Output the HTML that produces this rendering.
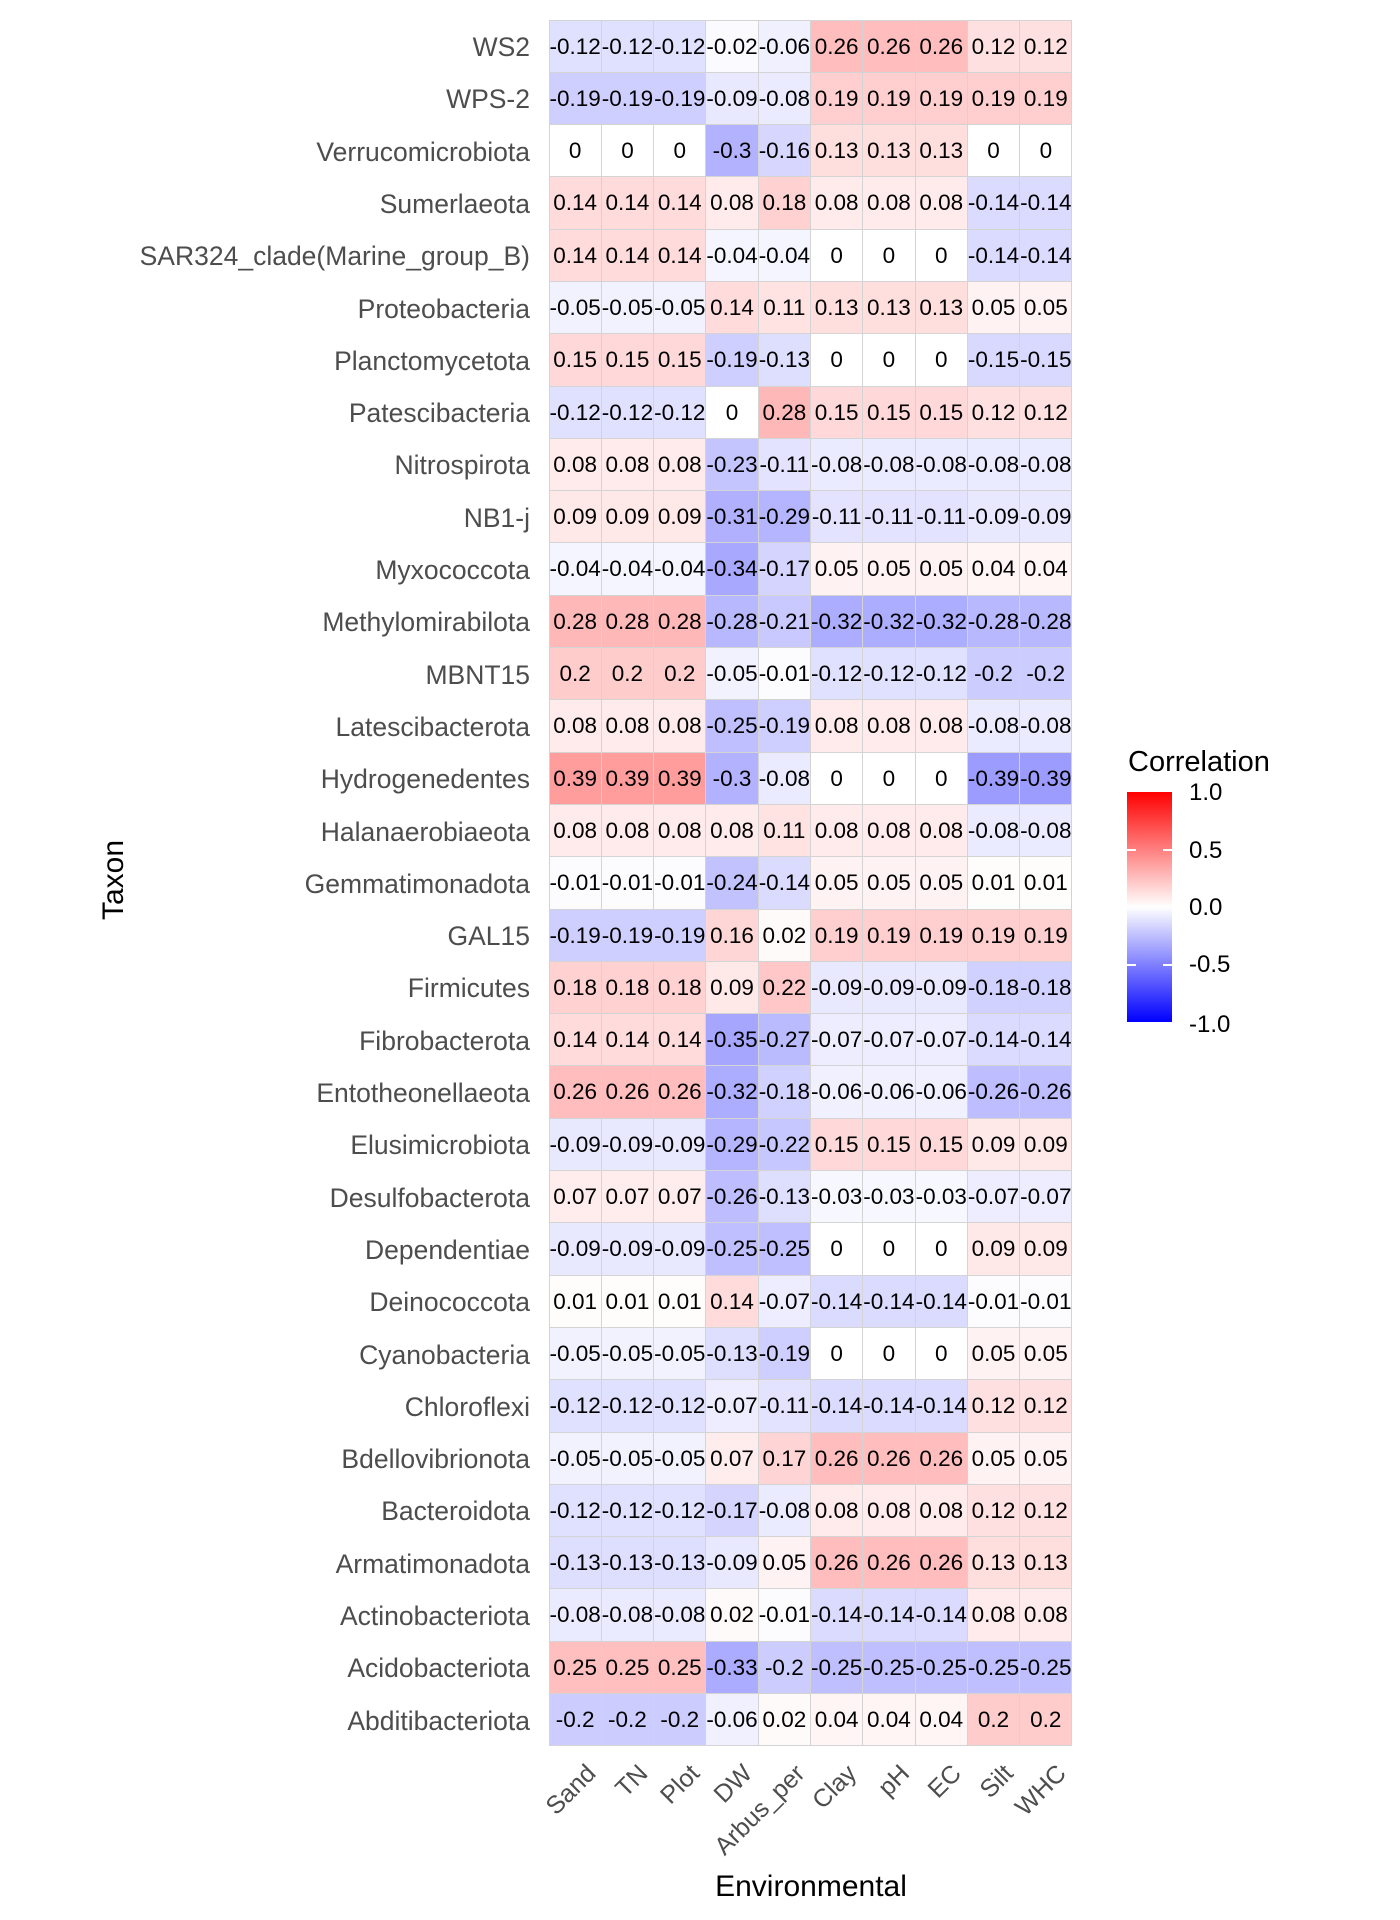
<!DOCTYPE html>
<html><head><meta charset="utf-8"><style>
body{margin:0;width:1400px;height:1920px;background:#fff;position:relative;font-family:"Liberation Sans",Arial,sans-serif;overflow:hidden}
#g{position:absolute;left:550px;top:21px;display:grid;grid-template-columns:repeat(10,52.3px);grid-auto-rows:52.3px;border-left:1.5px solid #d4d4d4;border-top:1.5px solid #d4d4d4;margin-left:-1.5px;margin-top:-1.5px}
#g span{box-sizing:border-box;border-right:1.5px solid #d4d4d4;border-bottom:1.5px solid #d4d4d4;text-align:center;line-height:51px;font-size:22.5px;color:#000;white-space:nowrap;overflow:visible;letter-spacing:0px;background:#fff;display:flex;justify-content:center}
.yl{position:absolute;right:870px;height:52.3px;line-height:52.3px;font-size:26.5px;color:#4d4d4d;white-space:nowrap;text-align:right}
.xl{position:absolute;font-size:25px;color:#4d4d4d;white-space:nowrap;transform-origin:100% 0;transform:rotate(-45deg);line-height:26px}
.p01{background:rgb(255,252,252)!important}.p02{background:rgb(255,250,250)!important}.p04{background:rgb(255,245,245)!important}.p05{background:rgb(255,242,242)!important}.p07{background:rgb(255,237,237)!important}.p08{background:rgb(255,235,235)!important}.p09{background:rgb(255,232,232)!important}.p11{background:rgb(255,227,227)!important}.p12{background:rgb(255,224,224)!important}.p13{background:rgb(255,222,222)!important}.p14{background:rgb(255,219,219)!important}.p15{background:rgb(255,217,217)!important}.p16{background:rgb(255,214,214)!important}.p17{background:rgb(255,212,212)!important}.p18{background:rgb(255,209,209)!important}.p19{background:rgb(255,207,207)!important}.p20{background:rgb(255,204,204)!important}.p22{background:rgb(255,199,199)!important}.p25{background:rgb(255,191,191)!important}.p26{background:rgb(255,189,189)!important}.p28{background:rgb(255,184,184)!important}.p39{background:rgb(255,156,156)!important}
.m01{background:rgb(252,252,255)!important}.m02{background:rgb(250,250,255)!important}.m03{background:rgb(247,247,255)!important}.m04{background:rgb(245,245,255)!important}.m05{background:rgb(242,242,255)!important}.m06{background:rgb(240,240,255)!important}.m07{background:rgb(237,237,255)!important}.m08{background:rgb(235,235,255)!important}.m09{background:rgb(232,232,255)!important}.m11{background:rgb(227,227,255)!important}.m12{background:rgb(224,224,255)!important}.m13{background:rgb(222,222,255)!important}.m14{background:rgb(219,219,255)!important}.m15{background:rgb(217,217,255)!important}.m16{background:rgb(214,214,255)!important}.m17{background:rgb(212,212,255)!important}.m18{background:rgb(209,209,255)!important}.m19{background:rgb(207,207,255)!important}.m20{background:rgb(204,204,255)!important}.m21{background:rgb(201,201,255)!important}.m22{background:rgb(199,199,255)!important}.m23{background:rgb(196,196,255)!important}.m24{background:rgb(194,194,255)!important}.m25{background:rgb(191,191,255)!important}.m26{background:rgb(189,189,255)!important}.m27{background:rgb(186,186,255)!important}.m28{background:rgb(184,184,255)!important}.m29{background:rgb(181,181,255)!important}.m30{background:rgb(178,178,255)!important}.m31{background:rgb(176,176,255)!important}.m32{background:rgb(173,173,255)!important}.m33{background:rgb(171,171,255)!important}.m34{background:rgb(168,168,255)!important}.m35{background:rgb(166,166,255)!important}.m39{background:rgb(156,156,255)!important}
</style></head><body>

<div id="g">
<span class="m12">-0.12</span><span class="m12">-0.12</span><span class="m12">-0.12</span><span class="m02">-0.02</span><span class="m06">-0.06</span><span class="p26">0.26</span><span class="p26">0.26</span><span class="p26">0.26</span><span class="p12">0.12</span><span class="p12">0.12</span>
<span class="m19">-0.19</span><span class="m19">-0.19</span><span class="m19">-0.19</span><span class="m09">-0.09</span><span class="m08">-0.08</span><span class="p19">0.19</span><span class="p19">0.19</span><span class="p19">0.19</span><span class="p19">0.19</span><span class="p19">0.19</span>
<span>0</span><span>0</span><span>0</span><span class="m30">-0.3</span><span class="m16">-0.16</span><span class="p13">0.13</span><span class="p13">0.13</span><span class="p13">0.13</span><span>0</span><span>0</span>
<span class="p14">0.14</span><span class="p14">0.14</span><span class="p14">0.14</span><span class="p08">0.08</span><span class="p18">0.18</span><span class="p08">0.08</span><span class="p08">0.08</span><span class="p08">0.08</span><span class="m14">-0.14</span><span class="m14">-0.14</span>
<span class="p14">0.14</span><span class="p14">0.14</span><span class="p14">0.14</span><span class="m04">-0.04</span><span class="m04">-0.04</span><span>0</span><span>0</span><span>0</span><span class="m14">-0.14</span><span class="m14">-0.14</span>
<span class="m05">-0.05</span><span class="m05">-0.05</span><span class="m05">-0.05</span><span class="p14">0.14</span><span class="p11">0.11</span><span class="p13">0.13</span><span class="p13">0.13</span><span class="p13">0.13</span><span class="p05">0.05</span><span class="p05">0.05</span>
<span class="p15">0.15</span><span class="p15">0.15</span><span class="p15">0.15</span><span class="m19">-0.19</span><span class="m13">-0.13</span><span>0</span><span>0</span><span>0</span><span class="m15">-0.15</span><span class="m15">-0.15</span>
<span class="m12">-0.12</span><span class="m12">-0.12</span><span class="m12">-0.12</span><span>0</span><span class="p28">0.28</span><span class="p15">0.15</span><span class="p15">0.15</span><span class="p15">0.15</span><span class="p12">0.12</span><span class="p12">0.12</span>
<span class="p08">0.08</span><span class="p08">0.08</span><span class="p08">0.08</span><span class="m23">-0.23</span><span class="m11">-0.11</span><span class="m08">-0.08</span><span class="m08">-0.08</span><span class="m08">-0.08</span><span class="m08">-0.08</span><span class="m08">-0.08</span>
<span class="p09">0.09</span><span class="p09">0.09</span><span class="p09">0.09</span><span class="m31">-0.31</span><span class="m29">-0.29</span><span class="m11">-0.11</span><span class="m11">-0.11</span><span class="m11">-0.11</span><span class="m09">-0.09</span><span class="m09">-0.09</span>
<span class="m04">-0.04</span><span class="m04">-0.04</span><span class="m04">-0.04</span><span class="m34">-0.34</span><span class="m17">-0.17</span><span class="p05">0.05</span><span class="p05">0.05</span><span class="p05">0.05</span><span class="p04">0.04</span><span class="p04">0.04</span>
<span class="p28">0.28</span><span class="p28">0.28</span><span class="p28">0.28</span><span class="m28">-0.28</span><span class="m21">-0.21</span><span class="m32">-0.32</span><span class="m32">-0.32</span><span class="m32">-0.32</span><span class="m28">-0.28</span><span class="m28">-0.28</span>
<span class="p20">0.2</span><span class="p20">0.2</span><span class="p20">0.2</span><span class="m05">-0.05</span><span class="m01">-0.01</span><span class="m12">-0.12</span><span class="m12">-0.12</span><span class="m12">-0.12</span><span class="m20">-0.2</span><span class="m20">-0.2</span>
<span class="p08">0.08</span><span class="p08">0.08</span><span class="p08">0.08</span><span class="m25">-0.25</span><span class="m19">-0.19</span><span class="p08">0.08</span><span class="p08">0.08</span><span class="p08">0.08</span><span class="m08">-0.08</span><span class="m08">-0.08</span>
<span class="p39">0.39</span><span class="p39">0.39</span><span class="p39">0.39</span><span class="m30">-0.3</span><span class="m08">-0.08</span><span>0</span><span>0</span><span>0</span><span class="m39">-0.39</span><span class="m39">-0.39</span>
<span class="p08">0.08</span><span class="p08">0.08</span><span class="p08">0.08</span><span class="p08">0.08</span><span class="p11">0.11</span><span class="p08">0.08</span><span class="p08">0.08</span><span class="p08">0.08</span><span class="m08">-0.08</span><span class="m08">-0.08</span>
<span class="m01">-0.01</span><span class="m01">-0.01</span><span class="m01">-0.01</span><span class="m24">-0.24</span><span class="m14">-0.14</span><span class="p05">0.05</span><span class="p05">0.05</span><span class="p05">0.05</span><span class="p01">0.01</span><span class="p01">0.01</span>
<span class="m19">-0.19</span><span class="m19">-0.19</span><span class="m19">-0.19</span><span class="p16">0.16</span><span class="p02">0.02</span><span class="p19">0.19</span><span class="p19">0.19</span><span class="p19">0.19</span><span class="p19">0.19</span><span class="p19">0.19</span>
<span class="p18">0.18</span><span class="p18">0.18</span><span class="p18">0.18</span><span class="p09">0.09</span><span class="p22">0.22</span><span class="m09">-0.09</span><span class="m09">-0.09</span><span class="m09">-0.09</span><span class="m18">-0.18</span><span class="m18">-0.18</span>
<span class="p14">0.14</span><span class="p14">0.14</span><span class="p14">0.14</span><span class="m35">-0.35</span><span class="m27">-0.27</span><span class="m07">-0.07</span><span class="m07">-0.07</span><span class="m07">-0.07</span><span class="m14">-0.14</span><span class="m14">-0.14</span>
<span class="p26">0.26</span><span class="p26">0.26</span><span class="p26">0.26</span><span class="m32">-0.32</span><span class="m18">-0.18</span><span class="m06">-0.06</span><span class="m06">-0.06</span><span class="m06">-0.06</span><span class="m26">-0.26</span><span class="m26">-0.26</span>
<span class="m09">-0.09</span><span class="m09">-0.09</span><span class="m09">-0.09</span><span class="m29">-0.29</span><span class="m22">-0.22</span><span class="p15">0.15</span><span class="p15">0.15</span><span class="p15">0.15</span><span class="p09">0.09</span><span class="p09">0.09</span>
<span class="p07">0.07</span><span class="p07">0.07</span><span class="p07">0.07</span><span class="m26">-0.26</span><span class="m13">-0.13</span><span class="m03">-0.03</span><span class="m03">-0.03</span><span class="m03">-0.03</span><span class="m07">-0.07</span><span class="m07">-0.07</span>
<span class="m09">-0.09</span><span class="m09">-0.09</span><span class="m09">-0.09</span><span class="m25">-0.25</span><span class="m25">-0.25</span><span>0</span><span>0</span><span>0</span><span class="p09">0.09</span><span class="p09">0.09</span>
<span class="p01">0.01</span><span class="p01">0.01</span><span class="p01">0.01</span><span class="p14">0.14</span><span class="m07">-0.07</span><span class="m14">-0.14</span><span class="m14">-0.14</span><span class="m14">-0.14</span><span class="m01">-0.01</span><span class="m01">-0.01</span>
<span class="m05">-0.05</span><span class="m05">-0.05</span><span class="m05">-0.05</span><span class="m13">-0.13</span><span class="m19">-0.19</span><span>0</span><span>0</span><span>0</span><span class="p05">0.05</span><span class="p05">0.05</span>
<span class="m12">-0.12</span><span class="m12">-0.12</span><span class="m12">-0.12</span><span class="m07">-0.07</span><span class="m11">-0.11</span><span class="m14">-0.14</span><span class="m14">-0.14</span><span class="m14">-0.14</span><span class="p12">0.12</span><span class="p12">0.12</span>
<span class="m05">-0.05</span><span class="m05">-0.05</span><span class="m05">-0.05</span><span class="p07">0.07</span><span class="p17">0.17</span><span class="p26">0.26</span><span class="p26">0.26</span><span class="p26">0.26</span><span class="p05">0.05</span><span class="p05">0.05</span>
<span class="m12">-0.12</span><span class="m12">-0.12</span><span class="m12">-0.12</span><span class="m17">-0.17</span><span class="m08">-0.08</span><span class="p08">0.08</span><span class="p08">0.08</span><span class="p08">0.08</span><span class="p12">0.12</span><span class="p12">0.12</span>
<span class="m13">-0.13</span><span class="m13">-0.13</span><span class="m13">-0.13</span><span class="m09">-0.09</span><span class="p05">0.05</span><span class="p26">0.26</span><span class="p26">0.26</span><span class="p26">0.26</span><span class="p13">0.13</span><span class="p13">0.13</span>
<span class="m08">-0.08</span><span class="m08">-0.08</span><span class="m08">-0.08</span><span class="p02">0.02</span><span class="m01">-0.01</span><span class="m14">-0.14</span><span class="m14">-0.14</span><span class="m14">-0.14</span><span class="p08">0.08</span><span class="p08">0.08</span>
<span class="p25">0.25</span><span class="p25">0.25</span><span class="p25">0.25</span><span class="m33">-0.33</span><span class="m20">-0.2</span><span class="m25">-0.25</span><span class="m25">-0.25</span><span class="m25">-0.25</span><span class="m25">-0.25</span><span class="m25">-0.25</span>
<span class="m20">-0.2</span><span class="m20">-0.2</span><span class="m20">-0.2</span><span class="m06">-0.06</span><span class="p02">0.02</span><span class="p04">0.04</span><span class="p04">0.04</span><span class="p04">0.04</span><span class="p20">0.2</span><span class="p20">0.2</span>
</div>

<div class="yl" style="top:21px">WS2</div>
<div class="yl" style="top:73.3px">WPS-2</div>
<div class="yl" style="top:125.6px">Verrucomicrobiota</div>
<div class="yl" style="top:177.9px">Sumerlaeota</div>
<div class="yl" style="top:230.2px">SAR324_clade(Marine_group_B)</div>
<div class="yl" style="top:282.5px">Proteobacteria</div>
<div class="yl" style="top:334.8px">Planctomycetota</div>
<div class="yl" style="top:387.1px">Patescibacteria</div>
<div class="yl" style="top:439.4px">Nitrospirota</div>
<div class="yl" style="top:491.7px">NB1-j</div>
<div class="yl" style="top:544px">Myxococcota</div>
<div class="yl" style="top:596.3px">Methylomirabilota</div>
<div class="yl" style="top:648.6px">MBNT15</div>
<div class="yl" style="top:700.9px">Latescibacterota</div>
<div class="yl" style="top:753.2px">Hydrogenedentes</div>
<div class="yl" style="top:805.5px">Halanaerobiaeota</div>
<div class="yl" style="top:857.8px">Gemmatimonadota</div>
<div class="yl" style="top:910.1px">GAL15</div>
<div class="yl" style="top:962.4px">Firmicutes</div>
<div class="yl" style="top:1014.7px">Fibrobacterota</div>
<div class="yl" style="top:1067px">Entotheonellaeota</div>
<div class="yl" style="top:1119.3px">Elusimicrobiota</div>
<div class="yl" style="top:1171.6px">Desulfobacterota</div>
<div class="yl" style="top:1223.9px">Dependentiae</div>
<div class="yl" style="top:1276.2px">Deinococcota</div>
<div class="yl" style="top:1328.5px">Cyanobacteria</div>
<div class="yl" style="top:1380.8px">Chloroflexi</div>
<div class="yl" style="top:1433.1px">Bdellovibrionota</div>
<div class="yl" style="top:1485.4px">Bacteroidota</div>
<div class="yl" style="top:1537.7px">Armatimonadota</div>
<div class="yl" style="top:1590px">Actinobacteriota</div>
<div class="yl" style="top:1642.3px">Acidobacteriota</div>
<div class="yl" style="top:1694.6px">Abditibacteriota</div>

<div class="xl" style="right:818px;top:1760px">Sand</div>
<div class="xl" style="right:766px;top:1760px">TN</div>
<div class="xl" style="right:714px;top:1760px">Plot</div>
<div class="xl" style="right:661px;top:1760px">DW</div>
<div class="xl" style="right:609px;top:1760px">Arbus_per</div>
<div class="xl" style="right:557px;top:1760px">Clay</div>
<div class="xl" style="right:504px;top:1760px">pH</div>
<div class="xl" style="right:452px;top:1760px">EC</div>
<div class="xl" style="right:400px;top:1760px">Silt</div>
<div class="xl" style="right:347px;top:1760px">WHC</div>

<div style="position:absolute;left:0;width:1622px;top:1870px;text-align:center;font-size:30px;color:#000">Environmental</div>
<div style="position:absolute;left:114px;top:880px;font-size:30px;color:#000;transform:translate(-50%,-50%) rotate(-90deg);white-space:nowrap">Taxon</div>

<div style="position:absolute;left:1128px;top:746px;font-size:29px;color:#000">Correlation</div>
<div style="position:absolute;left:1127px;top:792px;width:45px;height:230px;background:linear-gradient(to bottom,#ff0000,#ffffff 50%,#0000ff)"></div>
<div style="position:absolute;left:1127px;top:849px;width:9px;height:1.5px;background:#fff"></div>
<div style="position:absolute;left:1163px;top:849px;width:9px;height:1.5px;background:#fff"></div>
<div style="position:absolute;left:1127px;top:964px;width:9px;height:1.5px;background:#fff"></div>
<div style="position:absolute;left:1163px;top:964px;width:9px;height:1.5px;background:#fff"></div>
<div style="position:absolute;left:1189px;top:780px;font-size:24px;line-height:26px">1.0</div>
<div style="position:absolute;left:1189px;top:838px;font-size:24px;line-height:26px">0.5</div>
<div style="position:absolute;left:1189px;top:895px;font-size:24px;line-height:26px">0.0</div>
<div style="position:absolute;left:1189px;top:952px;font-size:24px;line-height:26px">-0.5</div>
<div style="position:absolute;left:1189px;top:1012px;font-size:24px;line-height:26px">-1.0</div>
</body></html>
